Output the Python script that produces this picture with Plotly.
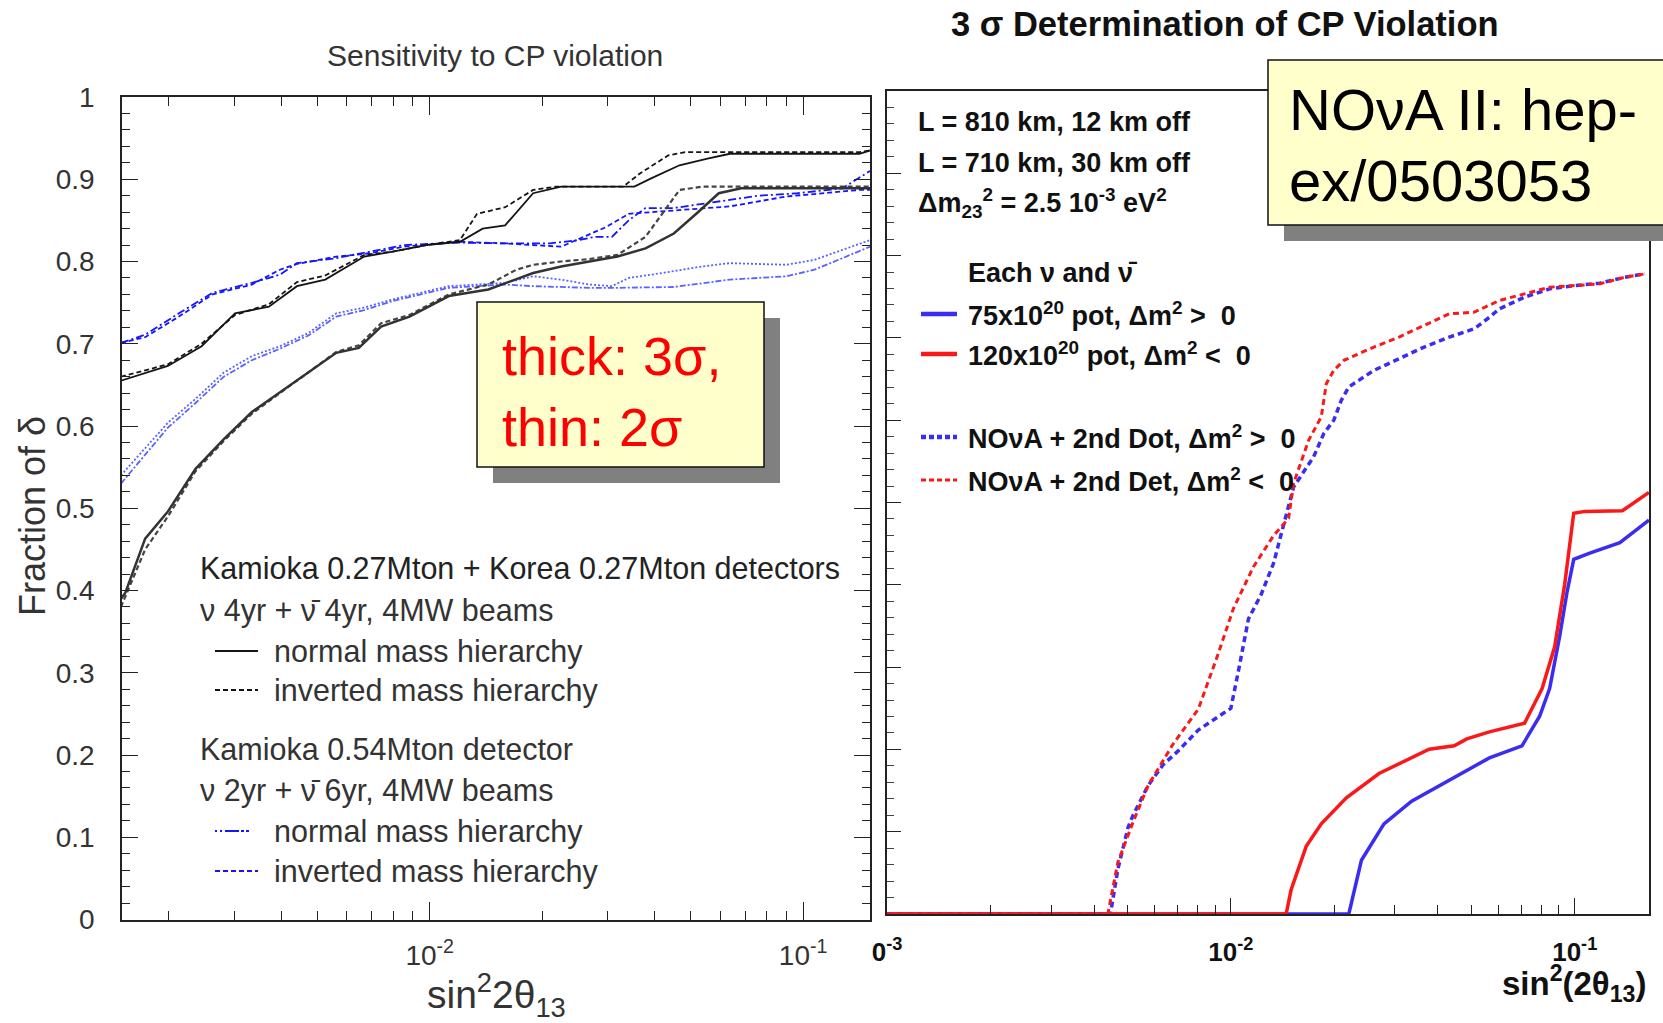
import plotly.graph_objects as go

W, H = 1663, 1023
def px(x): return x / W
def py(y): return 1 - y / H

# ---------------- Left panel data (sin^2 2theta13, fraction of delta) ----------------
# 2 sigma (upper) curves
k2n_x = [0.00149, 0.00199, 0.00245, 0.00301, 0.00371, 0.00441, 0.00525, 0.00668, 0.00796, 0.00979,
         0.01205, 0.01386, 0.01592, 0.01892, 0.02249, 0.03531, 0.03917, 0.04664, 0.05543, 0.06368, 0.1415, 0.151]
k2n_y = [0.655, 0.673, 0.697, 0.737, 0.745, 0.770, 0.778, 0.806, 0.812, 0.820,
         0.824, 0.840, 0.844, 0.883, 0.891, 0.891, 0.901, 0.917, 0.925, 0.931, 0.931, 0.935]
k2i_x = [0.00149, 0.00199, 0.00245, 0.00301, 0.00371, 0.00441, 0.00525, 0.00668, 0.00796, 0.00979,
         0.01205, 0.01339, 0.01592, 0.01892, 0.02173, 0.03295, 0.03655, 0.04351, 0.04828, 0.1415, 0.151]
k2i_y = [0.660, 0.675, 0.700, 0.735, 0.748, 0.775, 0.783, 0.808, 0.812, 0.820,
         0.826, 0.858, 0.866, 0.887, 0.891, 0.891, 0.907, 0.929, 0.933, 0.933, 0.935]
b2n_x = [0.00149, 0.00173, 0.00213, 0.00262, 0.00334, 0.00397, 0.00441, 0.00562, 0.00692, 0.00853,
         0.01205, 0.01592, 0.02099, 0.02498, 0.02771, 0.03075, 0.03411, 0.03784, 0.04505, 0.05355,
         0.07578, 0.0966, 0.1274, 0.151]
b2n_y = [0.701, 0.711, 0.737, 0.762, 0.774, 0.784, 0.798, 0.804, 0.812, 0.820,
         0.823, 0.822, 0.822, 0.826, 0.830, 0.830, 0.850, 0.865, 0.865, 0.870,
         0.880, 0.883, 0.889, 0.910]
b2i_x = [0.00149, 0.00173, 0.00213, 0.00262, 0.00334, 0.00397, 0.00441, 0.00562, 0.00692, 0.00853,
         0.01205, 0.01592, 0.02249, 0.02585, 0.0297, 0.03411, 0.04505, 0.06368, 0.09016, 0.1415, 0.151]
b2i_y = [0.701, 0.708, 0.733, 0.760, 0.772, 0.790, 0.797, 0.806, 0.810, 0.818,
         0.824, 0.822, 0.818, 0.830, 0.842, 0.858, 0.862, 0.867, 0.879, 0.887, 0.887]
# 3 sigma (lower) curves
k3n_x = [0.00149, 0.00153, 0.00173, 0.00199, 0.00236, 0.00281, 0.00334, 0.00397, 0.00473, 0.00562,
         0.00646, 0.00741, 0.00883, 0.01125, 0.01435, 0.01706, 0.01892, 0.02249, 0.02677, 0.03183,
         0.03784, 0.04505, 0.05174, 0.05943, 0.06825, 0.151]
k3n_y = [0.390, 0.397, 0.463, 0.496, 0.548, 0.584, 0.617, 0.641, 0.665, 0.689,
         0.695, 0.721, 0.733, 0.758, 0.766, 0.778, 0.786, 0.794, 0.800, 0.806,
         0.816, 0.834, 0.858, 0.883, 0.889, 0.889]
k3i_x = [0.00149, 0.00173, 0.00199, 0.00236, 0.00281, 0.00334, 0.00397, 0.00473, 0.00562, 0.00646,
         0.00741, 0.00883, 0.01125, 0.01435, 0.01706, 0.01892, 0.02249, 0.02677, 0.03183, 0.03784,
         0.04197, 0.04664, 0.05355, 0.151]
k3i_y = [0.380, 0.450, 0.490, 0.545, 0.582, 0.615, 0.640, 0.665, 0.690, 0.698,
         0.725, 0.735, 0.760, 0.772, 0.790, 0.796, 0.800, 0.803, 0.808, 0.830,
         0.858, 0.887, 0.891, 0.891]
b3n_x = [0.00149, 0.00199, 0.00236, 0.00281, 0.00334, 0.00397, 0.00473, 0.00562, 0.00668, 0.00796,
         0.00946, 0.01125, 0.01339, 0.01592, 0.01892, 0.02249, 0.02677, 0.03075, 0.03411, 0.04197,
         0.05355, 0.06368, 0.09016, 0.1072, 0.151]
b3n_y = [0.540, 0.604, 0.633, 0.665, 0.685, 0.697, 0.713, 0.737, 0.744, 0.754,
         0.762, 0.770, 0.772, 0.774, 0.782, 0.778, 0.772, 0.770, 0.780, 0.786,
         0.794, 0.798, 0.796, 0.802, 0.826]
b3i_x = [0.00149, 0.00199, 0.00236, 0.00281, 0.00334, 0.00397, 0.00473, 0.00562, 0.00668, 0.00796,
         0.00946, 0.01125, 0.01339, 0.01592, 0.01892, 0.02677, 0.03183, 0.04505, 0.06368, 0.09016,
         0.1072, 0.151]
b3i_y = [0.530, 0.598, 0.628, 0.660, 0.680, 0.694, 0.710, 0.733, 0.741, 0.752,
         0.760, 0.768, 0.770, 0.772, 0.770, 0.768, 0.768, 0.769, 0.778, 0.782,
         0.790, 0.818]

# ---------------- Right panel data (NOvA II) ----------------
blue_solid_x = [0.001, 0.02203, 0.02397, 0.02788, 0.03355, 0.04035, 0.04775, 0.05647, 0.07026, 0.07906,
                0.08453, 0.0904, 0.09508, 0.09933, 0.1106, 0.1353, 0.1644]
blue_solid_y = [0.0, 0.0, 0.0653, 0.1096, 0.137, 0.156, 0.1729, 0.1897, 0.2044, 0.2403,
                0.274, 0.3373, 0.3921, 0.431, 0.4386, 0.4512, 0.4787]
red_solid_x = [0.001, 0.01448, 0.01497, 0.01656, 0.01832, 0.02167, 0.02697, 0.0319, 0.03773, 0.04463,
               0.04855, 0.05647, 0.07145, 0.08037, 0.08742, 0.0935, 0.09933, 0.107, 0.1376, 0.1644]
red_solid_y = [0.0, 0.0, 0.0294, 0.0822, 0.1096, 0.1412, 0.1707, 0.1855, 0.2003, 0.2044,
               0.2128, 0.2213, 0.2318, 0.274, 0.3246, 0.4006, 0.487, 0.4892, 0.49, 0.5123]
blue_dot_x = [0.001, 0.004464, 0.004694, 0.005024, 0.005196, 0.005743, 0.006352, 0.007028, 0.008038, 0.00919,
              0.01, 0.01052, 0.01125, 0.01224, 0.01331, 0.01423, 0.01522, 0.01741, 0.01863, 0.01992,
              0.02095, 0.02203, 0.02607, 0.03084, 0.03648, 0.04315, 0.05105, 0.05647, 0.0604, 0.07145,
              0.08453, 0.1, 0.1183, 0.14, 0.1601]
blue_dot_y = [0.0, 0.0, 0.0548, 0.1053, 0.1201, 0.156, 0.1813, 0.1982, 0.2235, 0.2403,
              0.25, 0.2953, 0.3585, 0.388, 0.4261, 0.4725, 0.5188, 0.5556, 0.5838, 0.6,
              0.6242, 0.6404, 0.6606, 0.6747, 0.6889, 0.701, 0.7111, 0.725, 0.7354, 0.7495,
              0.7596, 0.7636, 0.7665, 0.7737, 0.7778]
red_dot_x = [0.001, 0.004387, 0.004694, 0.005196, 0.005743, 0.006796, 0.008038, 0.00919, 0.01017, 0.01163,
             0.01331, 0.01472, 0.01522, 0.01684, 0.01832, 0.01895, 0.01992, 0.02131, 0.02607, 0.03084,
             0.03648, 0.04315, 0.05105, 0.0604, 0.07145, 0.08453, 0.1, 0.1183, 0.14, 0.1601]
red_dot_y = [0.0, 0.0, 0.0631, 0.1117, 0.156, 0.2067, 0.2488, 0.3164, 0.3711, 0.4218,
             0.4598, 0.4808, 0.5232, 0.5758, 0.604, 0.6444, 0.6606, 0.6727, 0.6889, 0.701,
             0.7152, 0.7293, 0.7313, 0.7455, 0.7535, 0.7616, 0.7636, 0.7657, 0.7737, 0.7778]

left_x_ticks = [0.01, 0.1]
left_x_text = ["10<sup>-2</sup>", "10<sup>-1</sup>"]
right_x_ticks = [0.001, 0.01, 0.1]
right_x_text = ["<b>0</b><sup><b>-3</b></sup>", "<b>10</b><sup><b>-2</b></sup>", "<b>10</b><sup><b>-1</b></sup>"]
minor_ticks = [0.002, 0.003, 0.004, 0.005, 0.006, 0.007, 0.008, 0.009,
               0.02, 0.03, 0.04, 0.05, 0.06, 0.07, 0.08, 0.09]

BLK = "#151515"
BLUE = "#1414ff"
LBLUE = "#5a62ff"
RBLUE = "#3a2cf2"
RED = "#fa1818"
SANS = "Liberation Sans, Arial, sans-serif"
TXT = "#333333"

fig = go.Figure()

def ltrace(x, y, color, width, dash):
    fig.add_trace(go.Scatter(x=x, y=y, mode="lines", xaxis="x", yaxis="y",
                             line=dict(color=color, width=width, dash=dash), showlegend=False,
                             hoverinfo="skip"))

ltrace(b3n_x, b3n_y, LBLUE, 1.8, "2px,2px")
ltrace(b3i_x, b3i_y, LBLUE, 1.8, "6px,2px,2px,2px")
ltrace(b2n_x, b2n_y, BLUE, 1.8, "8px,3px,2px,3px")
ltrace(b2i_x, b2i_y, BLUE, 1.8, "5px,3px")
ltrace(k3i_x, k3i_y, "#444444", 2.2, "5px,3px")
ltrace(k3n_x, k3n_y, "#333333", 2.5, "solid")
ltrace(k2i_x, k2i_y, BLK, 1.8, "5px,3px")
ltrace(k2n_x, k2n_y, BLK, 1.8, "solid")

def rtrace(x, y, color, width, dash):
    fig.add_trace(go.Scatter(x=x, y=y, mode="lines", xaxis="x2", yaxis="y2",
                             line=dict(color=color, width=width, dash=dash), showlegend=False,
                             hoverinfo="skip"))

rtrace(blue_dot_x, blue_dot_y, RBLUE, 3.5, "6px,4px")
rtrace(red_dot_x, red_dot_y, RED, 3.0, "6px,4px")
rtrace(blue_solid_x, blue_solid_y, RBLUE, 3.5, "solid")
rtrace(red_solid_x, red_solid_y, RED, 3.5, "solid")

axis_common = dict(showgrid=False, zeroline=False, showline=True, linecolor="#222222",
                   linewidth=1.6, ticks="inside", tickcolor="#222222", tickwidth=1.4,
                   automargin=False)

fig.update_layout(
    width=W, height=H,
    margin=dict(l=0, r=0, t=0, b=0, pad=0, autoexpand=False),
    paper_bgcolor="white", plot_bgcolor="white",
    showlegend=False,
    xaxis=dict(axis_common, type="log", domain=[px(122), px(870)], anchor="y",
               range=[-2.824, -0.821], tickvals=left_x_ticks, ticktext=left_x_text,
               ticklen=18, mirror="allticks", ticklabelstandoff=10,
               tickfont=dict(family=SANS, size=28, color=TXT),
               minor=dict(tickvals=minor_ticks, ticks="inside", ticklen=9,
                          tickcolor="#222222", tickwidth=1.2, showgrid=False)),
    yaxis=dict(axis_common, domain=[py(919.5), py(97)], anchor="x",
               range=[0, 1], dtick=0.1, tick0=0, ticklen=16, mirror="allticks",
               ticklabelstandoff=20,
               tickfont=dict(family=SANS, size=28, color=TXT),
               minor=dict(dtick=0.02, ticks="inside", ticklen=8, tickcolor="#222222",
                          tickwidth=1.2, showgrid=False)),
    xaxis2=dict(axis_common, type="log", domain=[px(887), px(1649)], anchor="y2",
                range=[-3, -0.784], tickvals=right_x_ticks, ticktext=right_x_text,
                ticklen=16, mirror=True, ticklabelstandoff=14,
                tickfont=dict(family=SANS, size=26, color="#111111"),
                minor=dict(tickvals=minor_ticks, ticks="inside", ticklen=9,
                           tickcolor="#222222", tickwidth=1.2, showgrid=False)),
    yaxis2=dict(axis_common, domain=[py(914), py(91)], anchor="x2",
                range=[0, 1], dtick=0.1, tick0=0, ticklen=14, mirror=True,
                showticklabels=False,
                minor=dict(dtick=0.02, ticks="inside", ticklen=7, tickcolor="#444444",
                           tickwidth=1.2, showgrid=False)),
)

shapes = []
# legend samples
def seg(x0, x1, y, color, width, dash):
    shapes.append(dict(type="line", xref="paper", yref="paper", x0=px(x0), x1=px(x1),
                       y0=py(y), y1=py(y), line=dict(color=color, width=width, dash=dash)))
seg(215, 258, 651, BLK, 1.8, "solid")
seg(215, 258, 690, BLK, 1.8, "5px,3px")
seg(215, 258, 831, BLUE, 1.8, "2px,3px,2px,3px,14px")
seg(215, 258, 871, BLUE, 1.8, "5px,3px")
seg(921, 957, 314, RBLUE, 4.5, "solid")
seg(921, 957, 354, RED, 4.5, "solid")
seg(921, 957, 437, RBLUE, 4.5, "5px,3px")
seg(921, 957, 480, RED, 3.0, "5px,3px")

# yellow callout boxes with shadows
def callout(x0, y0, x1, y1):
    shapes.append(dict(type="rect", xref="paper", yref="paper", layer="above",
                       x0=px(x0 + 16), x1=px(x1 + 16), y0=py(y1 + 16), y1=py(y0 + 16),
                       fillcolor="#808080", line=dict(width=0)))
    shapes.append(dict(type="rect", xref="paper", yref="paper", layer="above",
                       x0=px(x0), x1=px(x1), y0=py(y1), y1=py(y0),
                       fillcolor="#ffffcc", line=dict(color="#111111", width=1.5)))
callout(477, 302, 764, 467)
callout(1268, 60, 1680, 225)
fig.update_layout(shapes=shapes)

ann = []
def text(x, y, s, size, color=TXT, anchor="left", bold=False, angle=0, family=SANS):
    ann.append(dict(x=px(x), y=py(y), xref="paper", yref="paper", text=("<b>%s</b>" % s) if bold else s,
                    showarrow=False, xanchor=anchor, yanchor="middle", textangle=angle,
                    font=dict(family=family, size=size, color=color)))

# titles
text(495, 56, "Sensitivity to CP violation", 30, anchor="center")
text(1225, 24, "3 σ Determination of CP Violation", 34.5, color="#111111", anchor="center", bold=True)
text(496, 995, "sin<sup>2</sup>2θ<sub>13</sub>", 39, anchor="center")
text(32, 516, "Fraction of δ", 36, anchor="center", angle=-90)
text(1574, 983, "sin<sup>2</sup>(2θ<sub>13</sub>)", 33, color="#111111", anchor="center", bold=True)

# left legend texts
LS = 30.5
text(198, 568, "Kamioka 0.27Mton + Korea 0.27Mton detectors", LS, color="#222222")
text(198, 610, "ν 4yr + ν̄ 4yr, 4MW beams", LS)
text(272, 651, "normal mass hierarchy", LS)
text(272, 690, "inverted mass hierarchy", LS)
text(198, 749, "Kamioka 0.54Mton detector", LS)
text(198, 790, "ν 2yr + ν̄ 6yr, 4MW beams", LS)
text(272, 831, "normal mass hierarchy", LS)
text(272, 871, "inverted mass hierarchy", LS)

# right legend texts
RC = "#111111"
RS = 27
text(916, 122, "L = 810 km, 12 km off", RS, color=RC, bold=True)
text(916, 163, "L = 710 km, 30 km off", RS, color=RC, bold=True)
text(916, 203, "Δm<sub>23</sub><sup>2</sup> = 2.5 10<sup>-3</sup> eV<sup>2</sup>", RS, color=RC, bold=True)
text(966, 273, "Each ν and ν̄", RS, color=RC, bold=True)
text(966, 314, "75x10<sup>20</sup> pot, Δm<sup>2</sup> >  0", RS, color=RC, bold=True)
text(966, 354, "120x10<sup>20</sup> pot, Δm<sup>2</sup> <  0", RS, color=RC, bold=True)
text(966, 437, "NOνA + 2nd Dot, Δm<sup>2</sup> >  0", RS, color=RC, bold=True)
text(966, 480, "NOνA + 2nd Det, Δm<sup>2</sup> <  0", RS, color=RC, bold=True)

# callout texts
text(500, 356, "thick: 3σ,", 54, color="#ff0000")
text(500, 427, "thin: 2σ", 54, color="#ff0000")
text(1287, 109, "NOνA II: hep-", 58, color="#000000")
text(1287, 180, "ex/0503053", 58, color="#000000")

fig.update_layout(annotations=ann)
fig.write_html("out.html")
